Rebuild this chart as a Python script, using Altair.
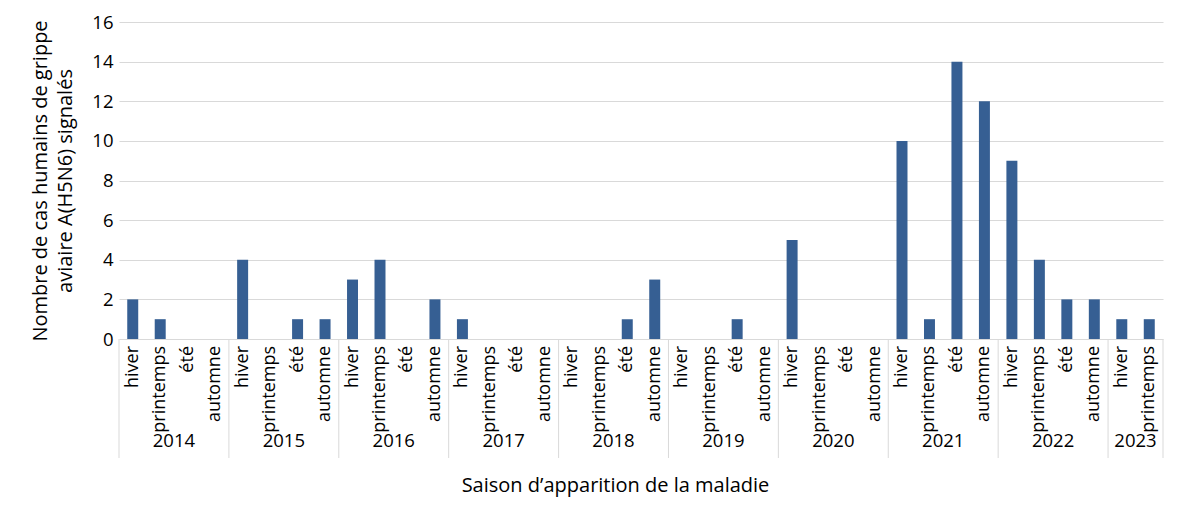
import altair as alt
import pandas as pd

years = ["2014", "2015", "2016", "2017", "2018", "2019", "2020", "2021", "2022", "2023"]
seasons = ["hiver", "printemps", "été", "automne"]
seasons_per_year = [4, 4, 4, 4, 4, 4, 4, 4, 4, 2]
values = [
    2, 1, 0, 0,
    4, 0, 1, 1,
    3, 4, 0, 2,
    1, 0, 0, 0,
    0, 0, 1, 3,
    0, 0, 1, 0,
    5, 0, 0, 0,
    10, 1, 14, 12,
    9, 4, 2, 2,
    1, 1,
]
y_ticks = [0, 2, 4, 6, 8, 10, 12, 14, 16]

rows = []
groups = []
idx = 0
for yr, n in zip(years, seasons_per_year):
    start = idx
    for s in seasons[:n]:
        rows.append({"year": yr, "season": s, "idx": idx, "value": values[idx],
                     "x0": idx + 0.3, "x1": idx + 0.7, "xc": idx + 0.5})
        idx += 1
    groups.append({"year": yr, "start": start, "end": idx, "mid": (start + idx) / 2})
total = idx
df = pd.DataFrame(rows)
gdf = pd.DataFrame(groups)
bounds = pd.DataFrame({"b": [g["start"] for g in groups] + [total]})

W, H = 1044, 317
FONT = "Open Sans"
FT = 20      # titles
FS = 18      # season labels
FD = 18.5    # digits
xscale = alt.Scale(domain=[0, total], nice=False, zero=False)
yscale = alt.Scale(domain=[0, 16], nice=False)

bars = alt.Chart(df).transform_filter("datum.value > 0").mark_bar(color="#365f93").encode(
    x=alt.X("x0:Q", scale=xscale,
            axis=alt.Axis(labels=False, ticks=False, domain=False, grid=False,
                          title="Saison d’apparition de la maladie", titlePadding=136,
                          titleX=496,
                          titleFontSize=FT, titleFontWeight="normal", titleColor="#000")),
    x2="x1:Q",
    y=alt.Y("value:Q", scale=yscale,
            axis=alt.Axis(values=y_ticks, ticks=False, domain=False, labelPadding=6,
                          labelFontSize=FD, labelColor="#000", gridColor="#d9d9d9",
                          title=["Nombre de cas humains de grippe", "aviaire A(H5N6) signalés"],
                          titleFontSize=FT, titleFontWeight="normal", titleColor="#000",
                          titleLineHeight=25, titlePadding=16)),
    y2=alt.datum(0),
)

season_text = alt.Chart(df).mark_text(angle=270, align="right", baseline="middle",
                                      fontSize=FS, color="#000", font=FONT).encode(
    x=alt.X("xc:Q", scale=xscale),
    y=alt.value(H + 7),
    text="season:N",
)

year_text = alt.Chart(gdf).mark_text(align="center", baseline="middle",
                                     fontSize=FD, color="#000", font=FONT).encode(
    x=alt.X("mid:Q", scale=xscale),
    y=alt.value(H + 102),
    text="year:N",
)

seps = alt.Chart(bounds).mark_rule(color="#d9d9d9", strokeWidth=1).encode(
    x=alt.X("b:Q", scale=xscale),
    y=alt.value(H),
    y2=alt.value(H + 119),
)

chart = alt.layer(bars, seps, season_text, year_text).properties(
    width=W, height=H,
    autosize=alt.AutoSizeParams(type="none"),
    padding={"left": 111, "top": 14, "right": 15, "bottom": 160},
).configure(font=FONT).configure_view(stroke=None)

chart.save("out.html", embed_options={"renderer": "svg", "actions": False})
